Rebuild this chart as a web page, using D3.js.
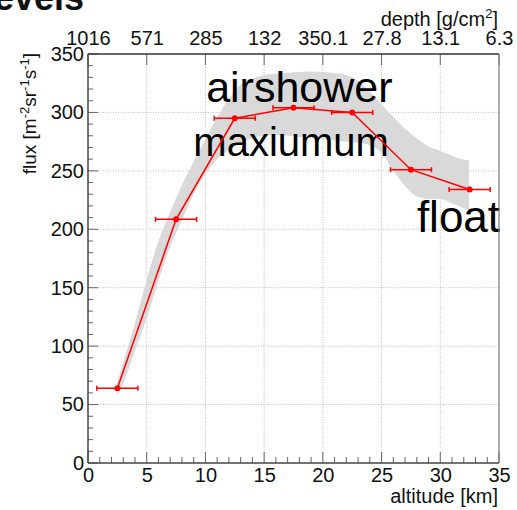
<!DOCTYPE html>
<html>
<head>
<meta charset="utf-8">
<script src="https://cdn.jsdelivr.net/npm/d3@7"></script>
<style>
  html, body { margin: 0; padding: 0; background: #ffffff; }
  svg { display: block; }
  text { font-family: "Liberation Sans", Arial, Helvetica, sans-serif; fill: #111; }
</style>
</head>
<body>
<svg id="chart" width="517" height="510"></svg>
<script>
// Measured flux versus altitude, with bin half-widths
const altitude = [2.5, 7.5, 12.5, 17.5, 22.5, 27.5, 32.5];
const flux     = [64, 208.5, 295, 304, 300, 251, 234];
const altErr   = [1.75, 1.75, 1.75, 1.75, 1.75, 1.75, 1.75];

// Uncertainty band (lower / upper flux at each altitude)
const bandAlt  = [2.5, 3, 4, 5, 6, 7, 8, 9, 10, 11, 12, 13, 14, 15, 16, 17, 18, 19, 20, 21, 22, 23, 24, 25, 26, 27, 28, 29, 30, 31, 32, 32.45];
const bandLow  = [58, 68, 96, 124, 156, 185, 208, 230, 247, 260, 268, 274, 278, 280, 281, 280, 279, 278, 277, 276, 275, 274, 272, 265, 250, 237, 228, 226, 226, 222, 218, 216];
const bandHigh = [70, 86, 120, 157, 190, 215, 238, 258, 277, 296, 312, 324, 329, 332, 333, 334, 334.5, 335, 334.5, 333.5, 332, 327, 318, 307, 296, 286, 278, 271, 267, 263, 259.5, 259];

// Axis ticks and the atmospheric depth shown along the top
const altTicks    = [0, 5, 10, 15, 20, 25, 30, 35];
const fluxTicks   = [0, 50, 100, 150, 200, 250, 300, 350];
const depthLabels = ["1016", "571", "285", "132", "350.1", "27.8", "13.1", "6.3"];

// Annotations
const notes = [
  { text: "airshower", alt: 18.0, flux: 309, size: 43 },
  { text: "maxiumum",  alt: 17.3, flux: 263, size: 40 },
  { text: "float",     alt: 31.55, flux: 198, size: 44 }
];

const svg = d3.select("#chart");
const x = d3.scaleLinear().domain([0, 35]).range([88, 499]);
const y = d3.scaleLinear().domain([0, 350]).range([463, 54]);

// Page heading above the chart (only its lower edge falls inside the view)
svg.append("text")
  .attr("x", 84).attr("y", 10)
  .attr("text-anchor", "end")
  .style("font-size", "36px").style("font-weight", "bold")
  .text("Levels");

// Grid
const grid = svg.append("g");
grid.selectAll("line.gx").data(altTicks.slice(1, -1)).join("line")
  .attr("x1", d => x(d)).attr("x2", d => x(d))
  .attr("y1", y(0)).attr("y2", y(350))
  .attr("stroke", "#bdbdbd").attr("stroke-width", 1).attr("stroke-dasharray", "1,1.5");
grid.selectAll("line.gy").data(fluxTicks.slice(1, -1)).join("line")
  .attr("y1", d => y(d)).attr("y2", d => y(d))
  .attr("x1", x(0)).attr("x2", x(35))
  .attr("stroke", "#bdbdbd").attr("stroke-width", 1).attr("stroke-dasharray", "1,1.5");

// Band
const band = bandAlt.map((a, i) => ({ a, lo: bandLow[i], hi: bandHigh[i] }));
svg.append("path")
  .datum(band)
  .attr("fill", "#d9d9d9")
  .attr("d", d3.area().x(d => x(d.a)).y0(d => y(d.lo)).y1(d => y(d.hi)).curve(d3.curveMonotoneX));

// Annotations
svg.selectAll("text.note").data(notes).join("text")
  .attr("class", "note")
  .attr("x", d => x(d.alt)).attr("y", d => y(d.flux))
  .attr("text-anchor", "middle")
  .style("font-size", d => d.size + "px")
  .style("fill", "#000")
  .text(d => d.text);

// Frame and axes
const axisColor = "#666";
const bottomAxis = svg.append("g").attr("transform", `translate(0,${y(0)})`)
  .call(d3.axisBottom(x).tickValues(altTicks).tickSize(0).tickPadding(10).tickFormat(d3.format("d")));
bottomAxis.select(".domain").remove();
bottomAxis.selectAll("text").style("font-size", "20px").style("fill", "#111").attr("dy", "0.71em").attr("y", 5);

const leftAxis = svg.append("g").attr("transform", `translate(${x(0)},0)`)
  .call(d3.axisLeft(y).tickValues(fluxTicks).tickSize(0).tickPadding(4).tickFormat(d3.format("d")));
leftAxis.select(".domain").remove();
leftAxis.selectAll("text").style("font-size", "20px").style("fill", "#111");

const topAxis = svg.append("g").attr("transform", `translate(0,${y(350)})`)
  .call(d3.axisTop(x).tickValues(altTicks).tickSize(0).tickPadding(9).tickFormat((d, i) => depthLabels[i]));
topAxis.select(".domain").remove();
topAxis.selectAll("text").style("font-size", "20px").style("fill", "#111");

// Tick marks drawn inward from the frame
const ticks = svg.append("g").attr("stroke", axisColor).attr("stroke-width", 1);
const minorAlt = d3.range(0, 35.01, 1);
ticks.selectAll("line.bx").data(minorAlt).join("line")
  .attr("x1", d => x(d)).attr("x2", d => x(d))
  .attr("y1", y(0)).attr("y2", d => y(0) - (d % 5 === 0 ? 11 : 6));
ticks.selectAll("line.tx").data(altTicks).join("line")
  .attr("x1", d => x(d)).attr("x2", d => x(d))
  .attr("y1", y(350)).attr("y2", y(350) + 11);
const minorFlux = d3.range(0, 350.01, 10);
ticks.selectAll("line.ly").data(minorFlux).join("line")
  .attr("y1", d => y(d)).attr("y2", d => y(d))
  .attr("x1", x(0)).attr("x2", d => x(0) + (d % 50 === 0 ? 10 : 5));

svg.append("line").attr("x1", x(0)).attr("x2", x(35)).attr("y1", y(350)).attr("y2", y(350)).attr("stroke", "#333").attr("stroke-width", 1.5);
svg.append("line").attr("x1", x(0)).attr("x2", x(35)).attr("y1", y(0)).attr("y2", y(0)).attr("stroke", "#444").attr("stroke-width", 1.5);
svg.append("line").attr("x1", x(0)).attr("x2", x(0)).attr("y1", y(0)).attr("y2", y(350)).attr("stroke", "#444").attr("stroke-width", 1.5);
svg.append("line").attr("x1", x(35)).attr("x2", x(35)).attr("y1", y(0)).attr("y2", y(350)).attr("stroke", "#777").attr("stroke-width", 1.2);

// Axis titles
svg.append("text")
  .attr("x", 498).attr("y", 503)
  .attr("text-anchor", "end")
  .style("font-size", "20px")
  .text("altitude [km]");

const depthTitle = svg.append("text")
  .attr("x", 498).attr("y", 26)
  .attr("text-anchor", "end")
  .style("font-size", "20px");
depthTitle.append("tspan").text("depth [g/cm");
depthTitle.append("tspan").attr("dy", -8).style("font-size", "13px").text("2");
depthTitle.append("tspan").attr("dy", 8).text("]");

const fluxTitle = svg.append("text")
  .attr("transform", "translate(36,53) rotate(-90)")
  .attr("text-anchor", "end")
  .style("font-size", "19px");
fluxTitle.append("tspan").text("flux [m");
fluxTitle.append("tspan").attr("dy", -7).style("font-size", "13px").text("-2");
fluxTitle.append("tspan").attr("dy", 7).text("sr");
fluxTitle.append("tspan").attr("dy", -7).style("font-size", "13px").text("-1");
fluxTitle.append("tspan").attr("dy", 7).text("s");
fluxTitle.append("tspan").attr("dy", -7).style("font-size", "13px").text("-1");
fluxTitle.append("tspan").attr("dy", 7).text("]");

// Data: connecting line, horizontal error bars with caps, markers
const pts = altitude.map((a, i) => ({ a, f: flux[i], e: altErr[i] }));
const red = "#ff0000";
svg.append("path").datum(pts)
  .attr("fill", "none").attr("stroke", red).attr("stroke-width", 1.5)
  .attr("d", d3.line().x(d => x(d.a)).y(d => y(d.f)));

const eb = svg.append("g").attr("stroke", red).attr("stroke-width", 1.5);
eb.selectAll("line.h").data(pts).join("line")
  .attr("x1", d => x(d.a - d.e)).attr("x2", d => x(d.a + d.e))
  .attr("y1", d => y(d.f)).attr("y2", d => y(d.f));
eb.selectAll("line.c1").data(pts).join("line")
  .attr("x1", d => x(d.a - d.e)).attr("x2", d => x(d.a - d.e))
  .attr("y1", d => y(d.f) - 2.5).attr("y2", d => y(d.f) + 2.5);
eb.selectAll("line.c2").data(pts).join("line")
  .attr("x1", d => x(d.a + d.e)).attr("x2", d => x(d.a + d.e))
  .attr("y1", d => y(d.f) - 2.5).attr("y2", d => y(d.f) + 2.5);

svg.selectAll("circle.pt").data(pts).join("circle")
  .attr("cx", d => x(d.a)).attr("cy", d => y(d.f)).attr("r", 3)
  .attr("fill", red);
</script>
</body>
</html>
